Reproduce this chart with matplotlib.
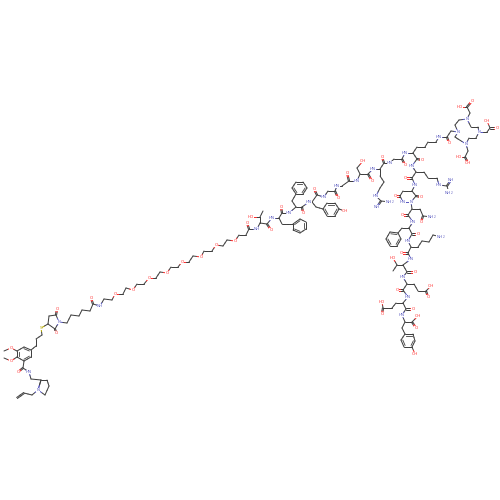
import matplotlib
matplotlib.use("Agg")
import matplotlib.pyplot as plt
import math

# Atom labels: (x, y, text)
atom_labels = [
 (38,390,'N'),(29,372,'HN'),(18,372,'O'),(11,348,'O'),(11,361,'O'),(41,328,'S'),
 (57,309,'O'),(56,333,'O'),(59,322,'N'),(91,298,'O'),(100,306,'NH'),
 (115,294,'O'),(133,290,'O'),(149,278,'O'),(167,273,'O'),(182,262,'O'),(201,257,'O'),
 (216,245,'O'),(235,241,'O'),(247,223,'O'),(257,229,'NH'),(251,217,'HO'),(271,230,'O'),
 (272,218,'HN'),(281,207,'O'),(289,213,'HN'),(303,213,'O'),(309,202,'HN'),(314,189,'O'),
 (345,211,'OH'),(324,197,'HN'),(338,198,'O'),(337,186,'HN'),(347,173,'O'),(357,181,'HN'),
 (363,161,'OH'),(372,181,'O'),(373,169,'HN'),(382,157,'O'),(390,163,'HN'),(405,165,'O'),
 (405,153,'HN'),(422,160,'O'),(439,137,'HN'),(449,143,'O'),(458,132,'N'),(467,119,'N'),
 (479,132,'N'),(466,144,'N'),(472,101,'O'),(460,107,'HO'),(487,121,'OH'),(497,128,'O'),
 (459,157,'HO'),(468,163,'OH'),(439,185,'HN'),(451,180,'NH'),(449,193,'NH2'),
 (412,166,'HN'),(405,178,'O'),(415,185,'HN'),(395,196,'O'),(403,202,'HN'),(411,202,'N'),
 (421,197,'O'),(376,196,'HN'),(390,202,'NH2'),(377,207,'NH'),(402,215,'O'),(432,217,'NH2'),
 (421,222,'O'),(413,222,'HN'),(418,234,'O'),(408,241,'HN'),(401,253,'O'),(441,237,'NH2'),
 (411,259,'HN'),(415,272,'O'),(393,258,'HO'),(403,277,'HN'),(397,290,'O'),(431,286,'OH'),
 (428,297,'O'),(408,297,'HN'),(413,309,'O'),(382,302,'HO'),(382,314,'O'),(402,315,'HN'),
 (418,316,'OH'),(416,328,'O'),(415,354,'OH'),
]

# Bond chains
allyl_chain = [(24,393),(32,395),(38,390),(41,380),(31,379),(29,372),(23,368),(24,361)]
pyrrolidine = [(38,390),(41,380),(47,380),(49,386),(45,395),(38,390)]
methoxy_a = [(17,351),(11,348),(4,351)]
methoxy_b = [(17,357),(11,361),(4,358)]
thio_chain = [(31,350),(36,346),(36,339),(42,335),(41,328),(48,324)]
succinimide = [(48,324),(49,316),(56,315),(59,322),(55,329),(48,324)]
peg_chain_a = [(59,322),(67,323),(71,315),(79,316),(82,310),(90,311),(93,304),(100,306),(104,299),
               (112,300),(115,294),(123,294),(126,288),(133,290),(137,284),(144,284),(149,278),
               (156,278),(160,272),(167,273),(171,267),(178,267),(182,262),(189,262),(193,256),
               (201,257),(204,251),(212,251),(216,245),(223,246),(227,240),(235,241),(239,235),
               (246,235),(249,229),(257,229),(260,223),(267,224),(272,218),(279,218),(282,213),
               (289,213),(296,207),(302,207),(309,202),(312,202),(317,195),(324,197),(328,191),
               (335,191),(337,186),(342,186),(349,181),(357,181),(360,174),(368,174),(373,169),
               (380,169),(384,163),(390,163),(394,159),(402,159),(405,153),(413,153),(417,159),
               (412,166),(416,172),(412,178),(415,185),(412,191)]
thr1_side = [(260,223),(260,217),(263,211)]
thr1_oh = [(260,217),(251,217)]
phe1_side = [(279,218),(282,224),(289,224),(293,224)]
phe2_side = [(296,207),(292,201),(296,194)]
tyr1_side = [(312,202),(316,207),(323,209)]
tyr1_oh = [(339,209),(345,211)]
ser_side = [(360,174),(357,168),(363,161)]
arg1_side = [(380,169),(380,176),(384,182),(380,188),(376,196),(381,201),(390,202)]
lys1_chain = [(413,153),(417,147),(425,147),(428,142),(436,142),(439,137),(447,137),(451,131),(458,132)]
cyclen = [(458,132),(455,125),(459,120),(467,119),(471,127),(478,127),(479,132),(476,138),(469,138),
          (466,144),(458,139),(455,137),(458,132)]
acid_a = [(467,119),(470,113),(467,107),(460,107)]
acid_b = [(479,132),(487,132),(490,128),(487,121)]
acid_c = [(466,144),(468,151),(465,157),(459,157)]
arg2_side = [(416,172),(424,172),(428,178),(437,178),(439,185),(447,186),(449,193)]
bridge_ring = [(412,191),(403,191),(400,196),(403,202),(411,202),(416,196),(412,191)]
asn_chain = [(411,202),(412,209),(408,215),(413,222),(409,228),(412,234),(408,241),(411,247),(408,253),
             (411,259),(403,265),(407,272),(403,277),(407,284),(403,290),(408,297),(403,303),(406,309),
             (402,315),(405,322),(412,322),(418,316)]
asn_side = [(412,209),(420,209),(423,216),(432,217)]
phe3_side = [(409,228),(402,228),(398,233)]
lys2_side = [(411,247),(418,247),(422,241),(429,242),(433,235),(441,237)]
thr2_side = [(403,265),(397,265),(393,258)]
thr2_me = [(397,265),(393,271)]
glu1_side = [(407,284),(414,284),(418,291),(426,291),(431,286)]
glu2_side = [(403,303),(396,303),(392,308),(383,308),(382,302)]
tyr2_side = [(405,322),(402,328),(405,334)]
tyr2_oh = [(412,347),(415,354)]

all_chains = [allyl_chain, pyrrolidine, methoxy_a, methoxy_b, thio_chain, succinimide, peg_chain_a,
              thr1_side, thr1_oh, phe1_side, phe2_side, tyr1_side, tyr1_oh, ser_side, arg1_side,
              lys1_chain, cyclen, acid_a, acid_b, acid_c, arg2_side, bridge_ring, asn_chain, asn_side,
              phe3_side, lys2_side, thr2_side, thr2_me, glu1_side, glu2_side, tyr2_side, tyr2_oh]

# Aromatic rings, vertex order around the ring
benzene_core = [(24,347),(31,350),(31,357),(24,361),(17,357),(17,351)]
phe1_ring = [(293,224),(300,219),(306,222),(306,229),(300,233),(293,230)]
phe2_ring = [(296,182),(303,182),(307,188),(303,194),(296,194),(292,188)]
tyr1_ring = [(327,203),(335,203),(339,209),(335,216),(327,216),(323,209)]
phe3_ring = [(398,233),(390,232),(386,239),(390,246),(397,246),(401,239)]
tyr2_ring = [(405,334),(413,334),(415,341),(412,347),(404,347),(401,340)]
rings = [benzene_core, phe1_ring, phe2_ring, tyr1_ring, phe3_ring, tyr2_ring]

# Double bonds
double_bonds = [((17,398),(24,393)),((23,368),(18,372)),((56,315),(57,309)),((55,329),(56,333)),
 ((93,304),(91,298)),((249,229),(247,223)),((267,224),(271,230)),((282,213),(281,207)),
 ((302,207),(303,213)),((317,195),(314,189)),((335,191),(338,198)),((349,181),(347,173)),
 ((368,174),(372,181)),((384,163),(382,157)),((402,159),(405,165)),((417,159),(422,160)),
 ((447,137),(449,143)),((467,107),(472,101)),((490,128),(497,128)),((465,157),(468,163)),
 ((447,186),(451,180)),((412,178),(405,178)),((400,196),(395,196)),((416,196),(421,197)),
 ((381,201),(377,207)),((408,215),(402,215)),((423,216),(421,222)),((412,234),(418,234)),
 ((408,253),(401,253)),((407,272),(415,272)),((403,290),(397,290)),((426,291),(428,297)),
 ((406,309),(413,309)),((383,308),(382,314)),((412,322),(416,328))]

BOND = '#404040'
COLORS = {'O':'#ff3030','N':'#5a5ac0','H':None,'S':'#b5a800'}

fig = plt.figure(figsize=(5,5), dpi=100)
ax = fig.add_axes([0,0,1,1])
ax.set_xlim(0,500); ax.set_ylim(500,0); ax.axis('off')

label_at = {(x,y):t for x,y,t in atom_labels}
def atom_color(p):
    t = label_at.get(p)
    if t is None: return None
    letter = t.replace('H','').replace('2','')[0]
    return COLORS[letter]

def bond(a, b, off=0.0, lw=0.72):
    dx, dy = b[0]-a[0], b[1]-a[1]
    L = math.hypot(dx,dy) or 1
    nx, ny = -dy/L*off, dx/L*off
    p = (a[0]+nx,a[1]+ny); q = (b[0]+nx,b[1]+ny)
    m = ((p[0]+q[0])/2,(p[1]+q[1])/2)
    ca, cb = atom_color(a), atom_color(b)
    ax.plot([p[0],m[0]],[p[1],m[1]],color=ca or BOND,lw=lw,solid_capstyle='round',zorder=2)
    ax.plot([m[0],q[0]],[m[1],q[1]],color=cb or BOND,lw=lw,solid_capstyle='round',zorder=2)

for ch in all_chains:
    for a,b in zip(ch,ch[1:]):
        bond(a,b)
for a,b in double_bonds:
    bond(a,b,0.6); bond(a,b,-0.6)
for r in rings:
    cx = sum(p[0] for p in r)/6; cy = sum(p[1] for p in r)/6
    for i in range(6):
        a,b = r[i],r[(i+1)%6]
        bond(a,b)
        if i%2==0:
            ia = (a[0]+(cx-a[0])*0.25,a[1]+(cy-a[1])*0.25)
            ib = (b[0]+(cx-b[0])*0.25,b[1]+(cy-b[1])*0.25)
            ax.plot([ia[0],ib[0]],[ia[1],ib[1]],color=BOND,lw=0.6,zorder=2)
for x,y,t in atom_labels:
    letter = t.replace('H','').replace('2','')[0]
    ax.text(x,y,t.replace('NH2','NH$_2$'),color=COLORS[letter],fontsize=3.0,ha='center',va='center',
            zorder=3,family='DejaVu Sans',
            bbox=dict(boxstyle='square,pad=0.03',fc='white',ec='none'))
fig.savefig('out.png',dpi=100,facecolor='white')
